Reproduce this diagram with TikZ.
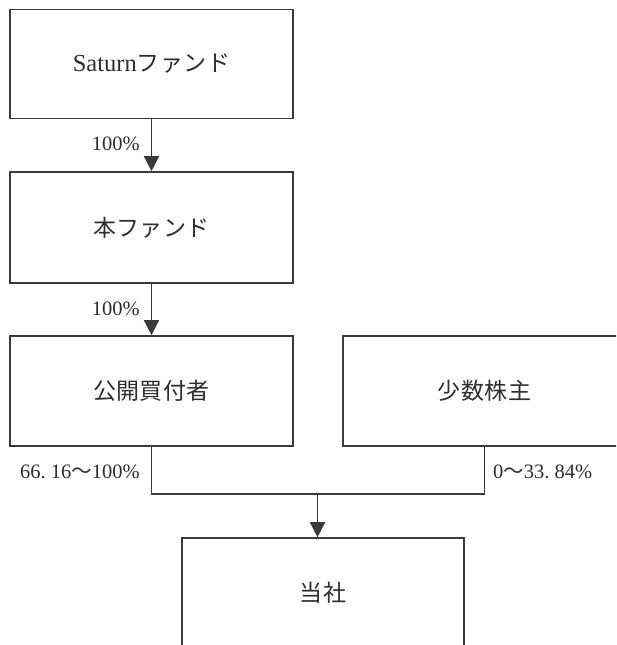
\documentclass[tikz,border=0pt]{standalone}
\usepackage{fontspec}
\setmainfont{Liberation Serif}
\newfontfamily\jp[LetterSpace=2]{Noto Sans CJK JP}
\newfontfamily\jpn{Noto Sans CJK JP}
\usetikzlibrary{arrows.meta}
\definecolor{ln}{HTML}{3A3A3A}
\definecolor{tx}{HTML}{2E2E2E}
\begin{document}
\begin{tikzpicture}[x=1pt,y=-1pt,
  box/.style={draw=ln, line width=1.6pt, minimum width=283pt, inner sep=0pt, text=tx, font=\fontsize{23}{23}\selectfont},
  lab/.style={text=tx, font=\fontsize{20.5}{20.5}\selectfont, inner sep=0pt},
  arr/.style={draw=ln, line width=1.4pt, -{Triangle[width=15pt,length=15pt]}},
  conn/.style={draw=ln, line width=1.4pt}]
\clip (0,0) rectangle (616,645);
\fill[white] (0,0) rectangle (616,645);
\node[box, minimum height=109pt] (f1) at (151.5,64) {{\fontsize{24.5}{24.5}\selectfont Saturn}{\jp ファンド}};
\node[box, minimum height=111pt] (f2) at (151.5,227.5) {\jp 本ファンド};
\node[box, minimum height=110pt] (f3) at (151.5,391) {\jp 公開買付者};
\node[box, minimum height=110pt] (f4) at (484.5,391) {\jp 少数株主};
\node[box, minimum height=110pt, minimum width=282pt] (f5) at (323,593) {\jp 当社};
\draw[arr] (f1) -- (f2);
\draw[arr] (f2) -- (f3);
\node[lab, anchor=east] (l1) at (140,144) {100\%};
\node[lab, anchor=east] (l2) at (140,309) {100\%};
\coordinate (j) at (317.5,494);
\draw[conn] (f3.south) |- (j) -| (f4.south);
\draw[arr] (j) -- (j |- f5.north);
\node[lab, anchor=east] (l3) at (140,472) {66.\ 16{\jpn ～}100\%};
\node[lab, anchor=west] (l4) at (493,472) {0{\jpn ～}33.\ 84\%};
\end{tikzpicture}
\end{document}
